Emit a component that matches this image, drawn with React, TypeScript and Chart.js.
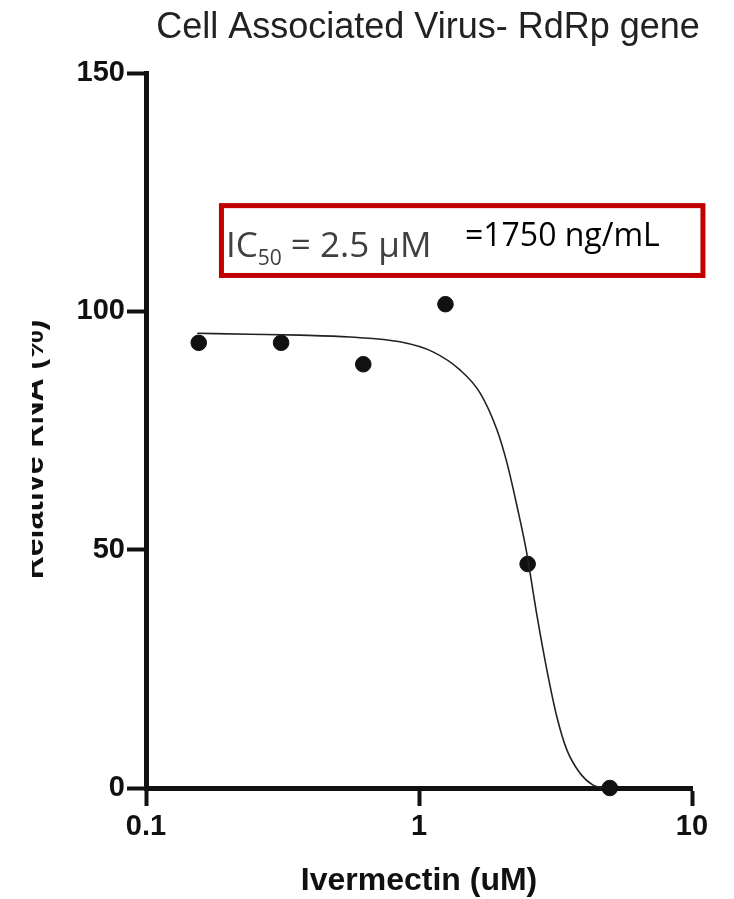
import React, { useEffect, useRef } from 'react';
import { Chart, registerables } from 'chart.js';

Chart.register(...registerables);

const TITLE = 'Cell Associated Virus- RdRp gene';
const X_TITLE = 'Ivermectin (uM)';
const Y_TITLE = 'Relative RNA (%)';

const X_TICKS = [0.1, 1, 10];
const X_TICK_LABELS = ['0.1', '1', '10'];
const Y_TICKS = [0, 50, 100, 150];

// measured points
const DOSE_UM = [0.156, 0.3125, 0.625, 1.25, 2.5, 5];
const RELATIVE_RNA = [93.4, 93.4, 88.9, 101.5, 47.0, 0];

// fitted curve
const FIT_X = [0.154, 0.24, 0.366, 0.559, 0.852, 1.125, 1.413, 1.673, 1.931, 2.1, 2.29, 2.47, 2.71, 2.94, 3.2, 3.48, 3.89, 4.34, 4.7];
const FIT_Y = [95.4, 95.2, 95.0, 94.6, 93.6, 91.5, 87.7, 82.9, 75.1, 68.2, 58.9, 49.9, 35.9, 24.8, 14.9, 8.0, 3.1, 0.6, 0];

// annotation box (data units)
const BOX_X = [0.185, 11.2];
const BOX_Y = [107, 122.7];
const IC50_TEXT = ['IC', '50', ' = 2.5 \u03bcM'];
const NG_TEXT = '=1750 ng/mL';

const AXIS_COLOR = '#111111';

const textPlugin = {
  id: 'texts',
  afterDraw(chart: any) {
    const ctx = chart.ctx as CanvasRenderingContext2D;
    const ca = chart.chartArea;
    const xs = chart.scales.x;
    const ys = chart.scales.y;
    ctx.save();
    // title
    ctx.fillStyle = '#222';
    ctx.font = '36px "Liberation Sans"';
    ctx.textAlign = 'center';
    ctx.textBaseline = 'alphabetic';
    ctx.fillText(TITLE, (ca.left + ca.right) / 2 + 9, 38);

    // x title
    ctx.fillStyle = AXIS_COLOR;
    ctx.font = 'bold 32px "Liberation Sans"';
    ctx.fillText(X_TITLE, (ca.left + ca.right) / 2, ca.bottom + 102);

    // y title (partly hidden on the left)
    ctx.save();
    ctx.translate(43, (ca.top + ca.bottom) / 2 + 19);
    ctx.rotate(-Math.PI / 2);
    ctx.textAlign = 'center';
    ctx.fillText(Y_TITLE, 0, 0);
    ctx.restore();
    ctx.fillStyle = '#ffffff';
    ctx.fillRect(0, 0, 32, chart.height);

    // annotation box
    const bx0 = xs.getPixelForValue(BOX_X[0]);
    const bx1 = xs.getPixelForValue(BOX_X[1]);
    const by0 = ys.getPixelForValue(BOX_Y[1]);
    const by1 = ys.getPixelForValue(BOX_Y[0]);
    ctx.fillStyle = '#ffffff';
    ctx.fillRect(bx0, by0, bx1 - bx0, by1 - by0);
    ctx.strokeStyle = '#c00000';
    ctx.lineWidth = 5;
    ctx.strokeRect(bx0 + 2.5, by0 + 2.5, bx1 - bx0 - 5, by1 - by0 - 5);

    ctx.textAlign = 'left';
    ctx.fillStyle = '#404040';
    let tx = bx0 + 7;
    const base = by0 + 54;
    ctx.font = '35px "Open Sans"';
    ctx.fillText(IC50_TEXT[0], tx, base);
    tx += ctx.measureText(IC50_TEXT[0]).width;
    ctx.font = '21px "Open Sans"';
    ctx.fillText(IC50_TEXT[1], tx, base + 8);
    tx += ctx.measureText(IC50_TEXT[1]).width;
    ctx.font = '35px "Open Sans"';
    ctx.fillText(IC50_TEXT[2], tx, base);

    ctx.fillStyle = '#000000';
    ctx.font = '32px "Open Sans"';
    ctx.fillText(NG_TEXT, bx0 + 246, by0 + 43);
    ctx.restore();
  },
};

export default function App() {
  const ref = useRef<HTMLCanvasElement | null>(null);
  useEffect(() => {
    document.body.style.margin = '0';
    const canvas = ref.current;
    if (!canvas) return;
    const tickFont = { family: 'Liberation Sans', weight: 'bold' as const, size: 29 };
    const chart = new Chart(canvas, {
      type: 'scatter',
      data: {
        datasets: [
          {
            type: 'line',
            label: 'fit',
            data: FIT_X.map((x, i) => ({ x, y: FIT_Y[i] })),
            borderColor: '#222222',
            borderWidth: 1.6,
            pointRadius: 0,
            cubicInterpolationMode: 'monotone',
            fill: false,
            clip: false as any,
          },
          {
            type: 'scatter',
            label: 'data',
            data: DOSE_UM.map((x, i) => ({ x, y: RELATIVE_RNA[i] })),
            backgroundColor: '#111111',
            borderColor: '#111111',
            pointRadius: 7.8,
            clip: false as any,
          },
        ] as any,
      },
      options: {
        animation: false,
        responsive: false,
        maintainAspectRatio: false,
        layout: { padding: { left: 0, right: 42, top: 73, bottom: 0 } },
        plugins: { legend: { display: false }, tooltip: { enabled: false }, title: { display: false } },
        scales: {
          x: {
            type: 'logarithmic',
            min: 0.1,
            max: 10,
            position: 'bottom',
            offset: false,
            border: { display: true, color: AXIS_COLOR, width: 5 },
            grid: { display: true, drawOnChartArea: false, drawTicks: true, tickLength: 18, tickWidth: 4, tickColor: AXIS_COLOR },
            ticks: {
              font: tickFont,
              color: AXIS_COLOR,
              padding: 4,
              maxRotation: 0,
              autoSkip: false,
              callback: (_v: any, i: number) => X_TICK_LABELS[i],
            },
            afterBuildTicks: (s: any) => {
              s.ticks = X_TICKS.map((v) => ({ value: v }));
            },
            afterFit: (s: any) => {
              s.height = 111;
            },
          } as any,
          y: {
            type: 'linear',
            min: 0,
            max: 150,
            offset: false,
            border: { display: true, color: AXIS_COLOR, width: 5 },
            grid: { display: true, drawOnChartArea: false, drawTicks: true, tickLength: 19, tickWidth: 4, tickColor: AXIS_COLOR },
            ticks: { font: tickFont, color: AXIS_COLOR, padding: 2 },
            afterBuildTicks: (s: any) => {
              s.ticks = Y_TICKS.map((v) => ({ value: v }));
            },
            afterFit: (s: any) => {
              s.width = 146;
            },
          } as any,
        },
      },
      plugins: [textPlugin],
    });
    return () => chart.destroy();
  }, []);
  return (
    <div style={{ width: 734, height: 899, background: '#fff' }}>
      <canvas ref={ref} width={734} height={899} style={{ display: 'block' }} />
    </div>
  );
}
